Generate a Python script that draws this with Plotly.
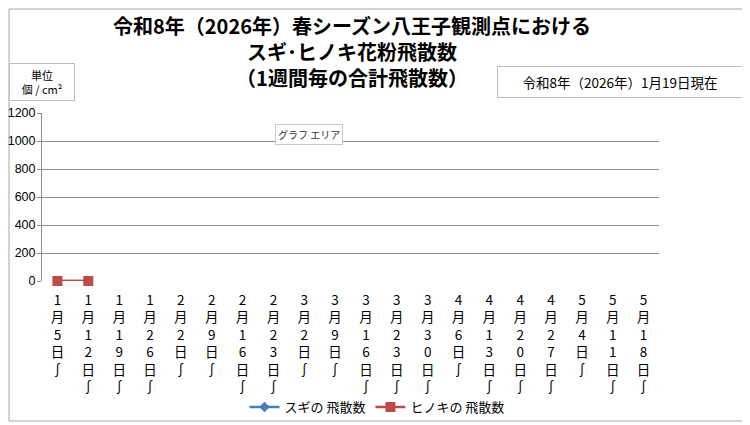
import plotly.graph_objects as go

# Weekly periods (start date of each week)
week_starts = ["1月5日～", "1月12日～", "1月19日～", "1月26日～",
               "2月2日～", "2月9日～", "2月16日～", "2月23日～",
               "3月2日～", "3月9日～", "3月16日～", "3月23日～", "3月30日～",
               "4月6日～", "4月13日～", "4月20日～", "4月27日～",
               "5月4日～", "5月11日～", "5月18日～"]

# Pollen counts per week (個/cm²), only the first two weeks are in so far
sugi_counts = [0, 0, None, None, None, None, None, None, None, None,
               None, None, None, None, None, None, None, None, None, None]
hinoki_counts = [0, 0, None, None, None, None, None, None, None, None,
                 None, None, None, None, None, None, None, None, None, None]

y_ticks = [0, 200, 400, 600, 800, 1000, 1200]

FONT = "Noto Sans CJK JP"

# page puts the figure 8px in from the corner, so the figure is made smaller
OFF = 8
W, H = 750 - OFF, 425 - OFF

# plot area in page pixels (left, right, top=1200 line, bottom=0 line)
PL, PR, PT, PB = 42, 659, 113, 281


def px(x):
    return (x - PL) / (PR - PL)


def py(y):
    return (PB - y) / (PB - PT)


# Excel-style vertical label: one character per line, wave dash turned upright
def vertical(label):
    return "<br>".join("∫" if ch == "～" else ch for ch in label)


tick_text = [vertical(s) for s in week_starts]

fig = go.Figure()
fig.add_trace(go.Scatter(x=week_starts, y=sugi_counts, name="スギの 飛散数",
                         mode="lines+markers", cliponaxis=False,
                         line=dict(color="#4A7EBB", width=2.5),
                         marker=dict(symbol="diamond", size=8, color="#4A7EBB")))
fig.add_trace(go.Scatter(x=week_starts, y=hinoki_counts, name="ヒノキの 飛散数",
                         mode="lines+markers", cliponaxis=False,
                         line=dict(color="#BE4B48", width=2.5),
                         marker=dict(symbol="square", size=10, color="#BE4B48")))

fig.update_layout(
    width=W, height=H,
    margin=dict(l=PL - OFF, r=750 - PR, t=PT - OFF, b=425 - PB, autoexpand=False),
    paper_bgcolor="white", plot_bgcolor="white",
    font=dict(family=FONT, size=13, color="#000000"),
    legend=dict(orientation="h", xref="container", yref="container",
                x=(377 - OFF) / W, xanchor="center", y=1 - (407 - OFF) / H, yanchor="middle",
                font=dict(family=FONT, size=13), bgcolor="rgba(0,0,0,0)"),
    showlegend=True,
    hovermode=False,
)

fig.update_xaxes(type="category", categoryorder="array", categoryarray=week_starts,
                 range=[-0.5, len(week_starts) - 0.5], automargin=False,
                 tickvals=week_starts, ticktext=tick_text,
                 tickfont=dict(family=FONT, size=13.5), tickangle=0,
                 showgrid=False, showline=False, ticks="",
                 ticklabelstandoff=9, zeroline=False)
fig.update_yaxes(range=[0, 1200], tickvals=y_ticks, automargin=False,
                 tickfont=dict(family="Liberation Sans", size=12.5),
                 showgrid=True, gridcolor="#8C8C8C", gridwidth=1,
                 showline=True, linecolor="#8C8C8C", linewidth=1,
                 ticks="outside", ticklen=4, tickcolor="#8C8C8C",
                 ticklabelstandoff=-1, zeroline=False)

# chart border
fig.add_shape(type="rect", xref="paper", yref="paper",
              x0=px(OFF + 1), x1=px(746), y0=py(421), y1=py(OFF + 1),
              line=dict(color="#A6A6A6", width=1), fillcolor="rgba(0,0,0,0)", layer="below")

# title
fig.add_annotation(xref="paper", yref="paper", x=px(352), y=py(51),
                   text="令和8年（2026年）春シーズン八王子観測点における<br>スギ･ヒノキ花粉飛散数<br>（1週間毎の合計飛散数）",
                   showarrow=False, align="center", xanchor="center", yanchor="middle",
                   font=dict(family=FONT, size=20, color="#000000", weight="bold"))

# unit box
fig.add_annotation(xref="paper", yref="paper", x=px(42), y=py(82),
                   text="単位<br>個 / cm²", showarrow=False, align="center",
                   font=dict(family=FONT, size=11), xanchor="center", yanchor="middle",
                   bordercolor="#BFBFBF", borderwidth=1, borderpad=3, bgcolor="white",
                   width=58, height=30)

# date box
fig.add_annotation(xref="paper", yref="paper", x=px(620), y=py(82),
                   text="令和8年（2026年）1月19日現在", showarrow=False,
                   font=dict(family=FONT, size=13.5), xanchor="center", yanchor="middle",
                   bordercolor="#BFBFBF", borderwidth=1, borderpad=4, bgcolor="white",
                   width=236, height=22)

# tooltip left over from the screenshot
fig.add_annotation(xref="paper", yref="paper", x=px(309), y=py(134),
                   text="グラフ エリア", showarrow=False,
                   font=dict(family=FONT, size=10, color="#333333"),
                   xanchor="center", yanchor="middle",
                   bordercolor="#C8C8C8", borderwidth=1, borderpad=2, bgcolor="white")

fig.write_html("out.html")
